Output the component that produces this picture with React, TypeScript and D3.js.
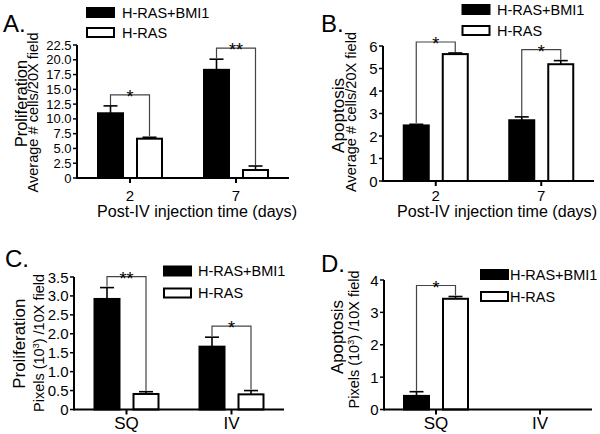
import React from "react";
import * as d3 from "d3";

const FONT = "'Liberation Sans', Arial, Helvetica, sans-serif";

// ---- data ----
const seriesNames = ["H-RAS+BMI1", "H-RAS"];
const catsAB = ["2", "7"];
const catsCD = ["SQ", "IV"];

const profA_bmi = [10.95, 18.3];
const profA_bmiErr = [1.25, 1.8];
const profA_ras = [6.65, 1.35];
const profA_rasErr = [0.24, 0.68];
const sigA = ["*", "**"];
const ticksA = [0, 2.5, 5, 7.5, 10, 12.5, 15, 17.5, 20, 22.5];

const apoB_bmi = [2.47, 2.7];
const apoB_bmiErr = [0.05, 0.15];
const apoB_ras = [5.64, 5.19];
const apoB_rasErr = [0.05, 0.16];
const sigB = ["*", "*"];
const ticksB = [0, 1, 2, 3, 4, 5, 6];

const profC_bmi = [2.92, 1.66];
const profC_bmiErr = [0.3, 0.25];
const profC_ras = [0.41, 0.4];
const profC_rasErr = [0.06, 0.1];
const sigC = ["**", "*"];
const ticksC = [0, 0.5, 1, 1.5, 2, 2.5, 3, 3.5];

const apoD_bmi = [0.42, 0];
const apoD_bmiErr = [0.13, 0];
const apoD_ras = [3.42, 0];
const apoD_rasErr = [0.07, 0];
const sigD = ["*", ""];
const ticksD = [0, 1, 2, 3, 4];

const fmt1 = (d: number) => (d === 0 ? "0" : d.toFixed(1));
const fmt0 = (d: number) => String(d);

// ---- layout ----
const panels = [
  {
    letter: "A.", letterX: 3, letterY: 32,
    cats: catsAB, vals: [profA_bmi, profA_ras], errs: [profA_bmiErr, profA_rasErr], sig: sigA,
    ticks: ticksA, fmt: fmt1, tickFont: 13,
    x0: 77, x1: 289, yTop: 45, yBottom: 178,
    main: "Proliferation", mainX: 26.5, mainY: 103.5, mainLen: 87,
    sub: "Average # cells/20X field", subX: 37.5, subY: 112.5, subLen: 160, sup: false,
    xLabel: "Post-IV injection time (days)", xLabelX: 97, xLabelY: 216.5,
    catFont: 15, catY: 200.5,
    legX: 87, legY: 8, legGap: 20, legTextX: 122,
  },
  {
    letter: "B.", letterX: 321, letterY: 32,
    cats: catsAB, vals: [apoB_bmi, apoB_ras], errs: [apoB_bmiErr, apoB_rasErr], sig: sigB,
    ticks: ticksB, fmt: fmt0, tickFont: 15,
    x0: 383, x1: 594, yTop: 46, yBottom: 181,
    main: "Apoptosis", mainX: 343.5, mainY: 115.5, mainLen: 75,
    sub: "Average # cells/20X field", subX: 356, subY: 112, subLen: 160, sup: false,
    xLabel: "Post-IV injection time (days)", xLabelX: 397, xLabelY: 216.5,
    catFont: 15, catY: 200.5,
    legX: 462.5, legY: 5, legGap: 21, legTextX: 497,
  },
  {
    letter: "C.", letterX: 5, letterY: 267,
    cats: catsCD, vals: [profC_bmi, profC_ras], errs: [profC_bmiErr, profC_rasErr], sig: sigC,
    ticks: ticksC, fmt: fmt1, tickFont: 15,
    x0: 74, x1: 284, yTop: 277, yBottom: 409.5,
    main: "Proliferation", mainX: 25, mainY: 343.7, mainLen: 90,
    sub: "", subX: 43.5, subY: 343, subLen: 138, sup: true,
    xLabel: "", xLabelX: 0, xLabelY: 0,
    catFont: 17, catY: 429,
    legX: 164, legY: 266.5, legGap: 22, legTextX: 198,
  },
  {
    letter: "D.", letterX: 321, letterY: 272,
    cats: catsCD, vals: [apoD_bmi, apoD_ras], errs: [apoD_bmiErr, apoD_rasErr], sig: sigD,
    ticks: ticksD, fmt: fmt0, tickFont: 15,
    x0: 384, x1: 592, yTop: 280, yBottom: 409.5,
    main: "Apoptosis", mainX: 343, mainY: 337, mainLen: 74,
    sub: "", subX: 358.5, subY: 339.5, subLen: 135, sup: true,
    xLabel: "", xLabelX: 0, xLabelY: 0,
    catFont: 17, catY: 429,
    legX: 481, legY: 270, legGap: 22, legTextX: 510,
  },
];

type P = (typeof panels)[number];

function Panel({ p }: { p: P }) {
  const yMax = p.ticks[p.ticks.length - 1];
  const y = d3.scaleLinear().domain([0, yMax]).range([p.yBottom, p.yTop]);
  const x = d3.scalePoint<string>().domain(p.cats).range([p.x0, p.x1]).padding(0.5);
  const xs = d3.scaleBand<string>().domain(seriesNames).range([-32, 32]).paddingInner(0.359);
  const bw = xs.bandwidth();
  const fills = ["#000", "#fff"];
  const capW = 14;

  return (
    <g fontFamily={FONT}>
      <text x={p.letterX} y={p.letterY} fontSize={24}>{p.letter}</text>

      {/* bars */}
      {p.cats.map((c, i) =>
        seriesNames.map((s, k) => {
          const v = p.vals[k][i];
          const bx = (x(c) as number) + (xs(s) as number);
          return (
            <rect key={c + s} x={bx} y={y(v)} width={bw} height={y(0) - y(v)}
              fill={fills[k]} stroke="#000" strokeWidth={2} />
          );
        })
      )}

      {/* error bars */}
      {p.cats.map((c, i) =>
        seriesNames.map((s, k) => {
          const v = p.vals[k][i];
          const e = p.errs[k][i];
          if (!e) return null;
          const cx = (x(c) as number) + (xs(s) as number) + bw / 2;
          return (
            <g key={"e" + c + s} stroke="#000" strokeWidth={1.6}>
              <line x1={cx} x2={cx} y1={y(v)} y2={y(v + e)} />
              <line x1={cx - capW / 2} x2={cx + capW / 2} y1={y(v + e)} y2={y(v + e)} />
            </g>
          );
        })
      )}

      {/* significance brackets */}
      {p.cats.map((c, i) => {
        const mark = p.sig[i];
        if (!mark) return null;
        const tops = seriesNames.map((s, k) => y(p.vals[k][i] + p.errs[k][i]));
        const xsC = seriesNames.map((s) => (x(c) as number) + (xs(s) as number) + bw / 2);
        const by = Math.min(...tops) - 11;
        return (
          <g key={"s" + c}>
            <path d={`M${xsC[0]},${tops[0] - 1}V${by}H${xsC[1]}V${tops[1] - 1}`}
              fill="none" stroke="#444" strokeWidth={1.2} />
            <text x={(xsC[0] + xsC[1]) / 2} y={by + 8} fontSize={18} textAnchor="middle">{mark}</text>
          </g>
        );
      })}

      {/* axes */}
      <line x1={p.x0} x2={p.x1} y1={p.yBottom} y2={p.yBottom} stroke="#000" strokeWidth={2} />
      <line x1={p.x0} x2={p.x0} y1={p.yBottom + 1} y2={p.yTop} stroke="#000" strokeWidth={2} />
      {p.ticks.map((t) => (
        <g key={"t" + t}>
          <line x1={p.x0 - 4} x2={p.x0} y1={y(t)} y2={y(t)} stroke="#000" strokeWidth={1.5} />
          <text x={p.x0 - 5.5} y={y(t)} fontSize={p.tickFont} textAnchor="end" dominantBaseline="central">{p.fmt(t)}</text>
        </g>
      ))}
      {p.cats.map((c) => (
        <g key={"x" + c}>
          <line x1={x(c)} x2={x(c)} y1={p.yBottom} y2={p.yBottom + 5} stroke="#000" strokeWidth={2} />
          <text x={x(c)} y={p.catY} fontSize={p.catFont} textAnchor="middle">{c}</text>
        </g>
      ))}

      {/* y labels (alphabetic baseline at screen x = mainX / subX) */}
      <text transform={`translate(${p.mainX},${p.mainY}) rotate(-90)`} fontSize={17}
        textAnchor="middle" textLength={p.mainLen} lengthAdjust="spacingAndGlyphs">{p.main}</text>
      {p.sup ? (
        <text transform={`translate(${p.subX},${p.subY}) rotate(-90)`} fontSize={14.5}
          textAnchor="middle">
          Pixels (10<tspan fontSize={9} dy={-5}>3</tspan><tspan dy={5}>) /10X field</tspan>
        </text>
      ) : (
        <text transform={`translate(${p.subX},${p.subY}) rotate(-90)`} fontSize={14.5}
          textAnchor="middle" textLength={p.subLen} lengthAdjust="spacingAndGlyphs">{p.sub}</text>
      )}
      {p.xLabel && (
        <text x={p.xLabelX} y={p.xLabelY} fontSize={16} textLength={200}
          lengthAdjust="spacingAndGlyphs">{p.xLabel}</text>
      )}

      {/* legend */}
      {seriesNames.map((s, k) => (
        <g key={"l" + s}>
          <rect x={p.legX} y={p.legY + k * p.legGap} width={27} height={9}
            fill={fills[k]} stroke="#000" strokeWidth={2} />
          <text x={p.legTextX} y={p.legY + k * p.legGap + 4.5} fontSize={14.5}
            dominantBaseline="central">{s}</text>
        </g>
      ))}
    </g>
  );
}

export default function App() {
  return (
    <svg width={600} height={434} viewBox="0 0 600 434"
      style={{ position: "absolute", left: 0, top: 0, background: "#fff" }}>
      <rect width={600} height={434} fill="#fff" />
      {panels.map((p) => (
        <Panel key={p.letter} p={p} />
      ))}
    </svg>
  );
}
